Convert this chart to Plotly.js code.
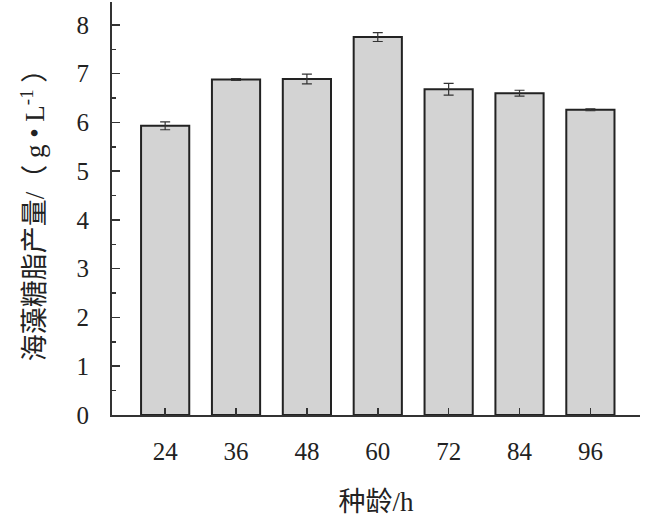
<!DOCTYPE html>
<html>
<head>
<meta charset="utf-8">
<script src="https://cdn.plot.ly/plotly-3.0.1.min.js"></script>
<style>html,body{margin:0;padding:0;background:#fff;}#chart{width:645px;height:527px;}</style>
</head>
<body>
<div id="chart"></div>
<script>
const categories = ['24', '36', '48', '60', '72', '84', '96'];
const yieldValues = [5.93, 6.88, 6.89, 7.75, 6.68, 6.60, 6.26];
const yieldErrors = [0.08, 0.02, 0.10, 0.09, 0.12, 0.06, 0.02];
const yTickVals = [0, 1, 2, 3, 4, 5, 6, 7, 8];

const fontFamily = '"Liberation Serif", "Times New Roman", "Noto Sans CJK SC", serif';

const trace = {
  type: 'bar',
  x: categories,
  y: yieldValues,
  width: 0.68,
  marker: {color: '#d3d3d3', line: {color: '#222', width: 2}},
  error_y: {type: 'data', array: yieldErrors, visible: true, color: '#333', thickness: 1.2, width: 5},
  hoverinfo: 'none'
};

const layout = {
  width: 645, height: 527,
  margin: {l: 112, r: 5, t: 2, b: 112},
  paper_bgcolor: '#fff', plot_bgcolor: '#fff',
  showlegend: false,
  font: {family: fontFamily, color: '#222', size: 25},
  xaxis: {
    type: 'category',
    range: [-0.75, 6.7],
    showline: true, linecolor: '#333', linewidth: 2,
    ticks: 'inside', ticklen: 7, tickcolor: '#333', tickwidth: 1.5,
    ticklabelstandoff: 13,
    showgrid: false, zeroline: false,
    tickfont: {family: fontFamily, size: 25, color: '#222'},
    title: {text: '种龄/h', font: {family: fontFamily, size: 27, color: '#222'}, standoff: 28},
    automargin: false
  },
  yaxis: {
    range: [0, 8.47],
    tickvals: yTickVals,
    showline: true, linecolor: '#333', linewidth: 2,
    ticks: 'inside', ticklen: 8, tickcolor: '#333', tickwidth: 1.5,
    minor: {dtick: 0.5, tick0: 0, ticks: 'inside', ticklen: 4, tickcolor: '#333', tickwidth: 1.5},
    ticklabelstandoff: 16,
    showgrid: false, zeroline: false,
    tickfont: {family: fontFamily, size: 25, color: '#222'},
    title: {text: '海藻糖脂产量/（ g • L<sup>-1</sup> ）', font: {family: fontFamily, size: 27, color: '#222'}, standoff: 24},
    automargin: false
  }
};

Plotly.newPlot('chart', [trace], layout, {staticPlot: true, displayModeBar: false});
</script>
</body>
</html>
